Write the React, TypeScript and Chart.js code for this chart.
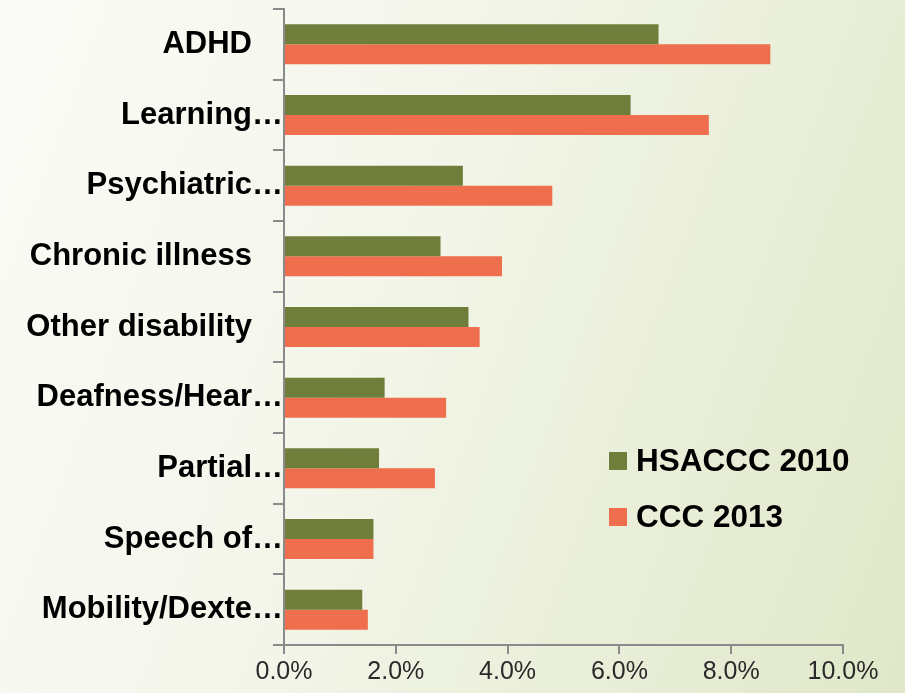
import React, { useEffect, useRef } from "react";
import { Chart, registerables } from "chart.js";

Chart.register(...registerables);

const categories = [
  "ADHD",
  "Learning…",
  "Psychiatric…",
  "Chronic illness",
  "Other disability",
  "Deafness/Hear…",
  "Partial…",
  "Speech of…",
  "Mobility/Dexte…",
];
const seriesNames = ["HSACCC 2010", "CCC 2013"];
const hsaccc2010 = [6.7, 6.2, 3.2, 2.8, 3.3, 1.8, 1.7, 1.6, 1.4];
const ccc2013 = [8.7, 7.6, 4.8, 3.9, 3.5, 2.9, 2.7, 1.6, 1.5];
const xTicks = [0, 2, 4, 6, 8, 10];

const GREEN = "#6f7e3b";
const ORANGE = "#ef6e4e";
const AXIS = "#8a8a8a";

const legendPlugin = {
  id: "insideLegend",
  afterDraw(chart: any) {
    const ctx = chart.ctx;
    ctx.save();
    ctx.font = "bold 31.5px 'Liberation Sans', Arial, sans-serif";
    ctx.textBaseline = "middle";
    ctx.textAlign = "left";
    chart.data.datasets.forEach((ds: any, i: number) => {
      const y = 461 + i * 56;
      ctx.fillStyle = ds.backgroundColor;
      ctx.fillRect(609, y - 9, 18, 18);
      ctx.fillStyle = "#000";
      ctx.fillText(ds.label, 636, y + 1);
    });
    ctx.restore();
  },
};

export default function App() {
  const ref = useRef<HTMLCanvasElement>(null);
  useEffect(() => {
    if (!ref.current) return;
    const chart = new Chart(ref.current, {
      type: "bar",
      data: {
        labels: categories,
        datasets: [
          { label: seriesNames[0], data: hsaccc2010, backgroundColor: GREEN },
          { label: seriesNames[1], data: ccc2013, backgroundColor: ORANGE },
        ],
      },
      options: {
        indexAxis: "y",
        animation: false,
        responsive: false,
        maintainAspectRatio: false,
        layout: { padding: { top: 9, right: 62, bottom: 0, left: 0 } },
        datasets: {
          bar: { categoryPercentage: 0.566, barPercentage: 1.0 },
        },
        plugins: {
          legend: { display: false },
          tooltip: { enabled: false },
        },
        scales: {
          x: {
            min: 0,
            max: 10,
            afterBuildTicks: (scale: any) => {
              scale.ticks = xTicks.map((v) => ({ value: v }));
            },
            afterFit: (scale: any) => {
              scale.height = 48;
            },
            ticks: {
              callback: (v: any) => Number(v).toFixed(1) + "%",
              font: { family: "'Liberation Sans', Arial, sans-serif", size: 25 },
              color: "#2a2a2a",
              padding: 3,
            },
            grid: {
              drawOnChartArea: false,
              drawTicks: true,
              tickLength: 9,
              color: AXIS,
              lineWidth: 2,
            },
            border: { display: true, color: AXIS, width: 2 },
          },
          y: {
            afterFit: (scale: any) => {
              scale.width = 284;
            },
            ticks: {
              callback: function (this: any, v: any) {
                const lbl = this.getLabelForValue(v) as string;
                return lbl.endsWith("…") ? lbl : lbl + "\u2003";
              },
              font: { family: "'Liberation Sans', Arial, sans-serif", size: 31, weight: "bold" },
              color: "#000",
              padding: -10,
            },
            grid: {
              offset: true,
              drawOnChartArea: false,
              drawTicks: true,
              tickLength: 11,
              color: AXIS,
              lineWidth: 2,
            },
            border: { display: true, color: AXIS, width: 2 },
          },
        },
      },
      plugins: [legendPlugin],
    });
    return () => chart.destroy();
  }, []);

  return (
    <div
      style={{
        position: "absolute",
        left: 0,
        top: 0,
        width: 905,
        height: 693,
        background: "linear-gradient(110deg, #fafbf6 0%, #f5f7ed 35%, #e0e8c9 100%)",
      }}
    >
      <canvas ref={ref} width={905} height={693} style={{ display: "block" }} />
    </div>
  );
}
